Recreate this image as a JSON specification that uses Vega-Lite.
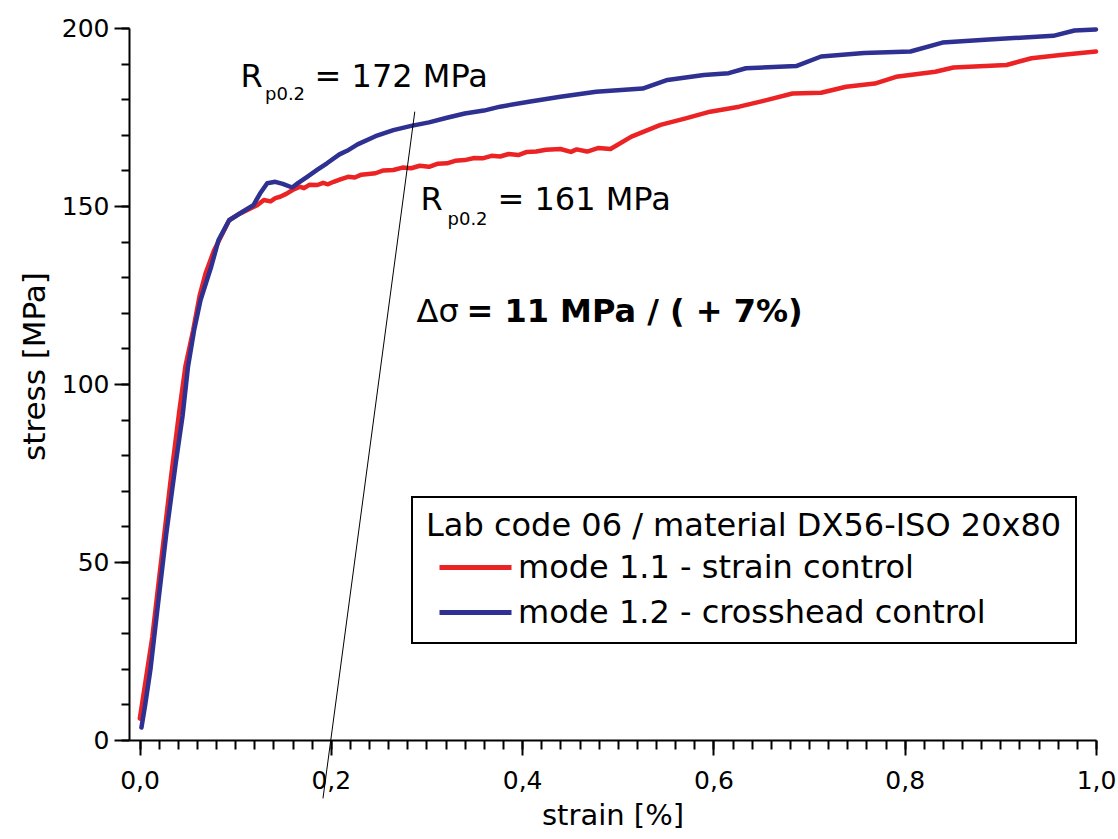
{
  "$schema": "https://vega.github.io/schema/vega-lite/v6.json",
  "width": 967,
  "height": 712,
  "autosize": {"type": "none"},
  "padding": {"left": 129, "top": 28, "right": 22, "bottom": 99},
  "background": "white",
  "config": {
    "view": {"stroke": null},
    "font": "DejaVu Sans",
    "axis": {
      "domainColor": "black", "domainWidth": 2, "tickColor": "black", "tickWidth": 2,
      "labelColor": "black", "titleColor": "black", "labelFont": "DejaVu Sans", "titleFont": "DejaVu Sans",
      "labelFontSize": 25, "titleFontWeight": "normal", "grid": false, "labelOverlap": false, "labelFlush": false
    },
    "legend": {"strokeWidth": 2}
  },
  "resolve": {"axis": {"x": "independent", "y": "independent"}},
  "datasets": {
    "curves": [
      {"strain": 0.0003, "stress": 6, "mode": "mode 1.1 - strain control"},
      {"strain": 0.006, "stress": 16, "mode": "mode 1.1 - strain control"},
      {"strain": 0.0134, "stress": 29, "mode": "mode 1.1 - strain control"},
      {"strain": 0.019, "stress": 42, "mode": "mode 1.1 - strain control"},
      {"strain": 0.026, "stress": 58, "mode": "mode 1.1 - strain control"},
      {"strain": 0.033, "stress": 74, "mode": "mode 1.1 - strain control"},
      {"strain": 0.0414, "stress": 92, "mode": "mode 1.1 - strain control"},
      {"strain": 0.048, "stress": 105, "mode": "mode 1.1 - strain control"},
      {"strain": 0.056, "stress": 115, "mode": "mode 1.1 - strain control"},
      {"strain": 0.063, "stress": 125, "mode": "mode 1.1 - strain control"},
      {"strain": 0.069, "stress": 131, "mode": "mode 1.1 - strain control"},
      {"strain": 0.078, "stress": 137.6, "mode": "mode 1.1 - strain control"},
      {"strain": 0.0937, "stress": 146, "mode": "mode 1.1 - strain control"},
      {"strain": 0.103, "stress": 147.6, "mode": "mode 1.1 - strain control"},
      {"strain": 0.109, "stress": 148.4, "mode": "mode 1.1 - strain control"},
      {"strain": 0.118, "stress": 149.6, "mode": "mode 1.1 - strain control"},
      {"strain": 0.123, "stress": 150.2, "mode": "mode 1.1 - strain control"},
      {"strain": 0.13, "stress": 151.7, "mode": "mode 1.1 - strain control"},
      {"strain": 0.137, "stress": 151.3, "mode": "mode 1.1 - strain control"},
      {"strain": 0.142, "stress": 152.2, "mode": "mode 1.1 - strain control"},
      {"strain": 0.147, "stress": 152.6, "mode": "mode 1.1 - strain control"},
      {"strain": 0.1534, "stress": 153.4, "mode": "mode 1.1 - strain control"},
      {"strain": 0.16, "stress": 154.5, "mode": "mode 1.1 - strain control"},
      {"strain": 0.168, "stress": 155.4, "mode": "mode 1.1 - strain control"},
      {"strain": 0.172, "stress": 155.0, "mode": "mode 1.1 - strain control"},
      {"strain": 0.178, "stress": 156.0, "mode": "mode 1.1 - strain control"},
      {"strain": 0.186, "stress": 155.9, "mode": "mode 1.1 - strain control"},
      {"strain": 0.192, "stress": 156.5, "mode": "mode 1.1 - strain control"},
      {"strain": 0.197, "stress": 156.1, "mode": "mode 1.1 - strain control"},
      {"strain": 0.203, "stress": 156.8, "mode": "mode 1.1 - strain control"},
      {"strain": 0.21, "stress": 157.5, "mode": "mode 1.1 - strain control"},
      {"strain": 0.218, "stress": 158.2, "mode": "mode 1.1 - strain control"},
      {"strain": 0.225, "stress": 158.0, "mode": "mode 1.1 - strain control"},
      {"strain": 0.232, "stress": 158.8, "mode": "mode 1.1 - strain control"},
      {"strain": 0.2467, "stress": 159.2, "mode": "mode 1.1 - strain control"},
      {"strain": 0.255, "stress": 160.0, "mode": "mode 1.1 - strain control"},
      {"strain": 0.2654, "stress": 160.1, "mode": "mode 1.1 - strain control"},
      {"strain": 0.275, "stress": 160.8, "mode": "mode 1.1 - strain control"},
      {"strain": 0.284, "stress": 160.6, "mode": "mode 1.1 - strain control"},
      {"strain": 0.293, "stress": 161.3, "mode": "mode 1.1 - strain control"},
      {"strain": 0.3027, "stress": 161.0, "mode": "mode 1.1 - strain control"},
      {"strain": 0.312, "stress": 161.9, "mode": "mode 1.1 - strain control"},
      {"strain": 0.3214, "stress": 162.0, "mode": "mode 1.1 - strain control"},
      {"strain": 0.33, "stress": 162.7, "mode": "mode 1.1 - strain control"},
      {"strain": 0.34, "stress": 162.9, "mode": "mode 1.1 - strain control"},
      {"strain": 0.35, "stress": 163.5, "mode": "mode 1.1 - strain control"},
      {"strain": 0.3587, "stress": 163.4, "mode": "mode 1.1 - strain control"},
      {"strain": 0.368, "stress": 164.1, "mode": "mode 1.1 - strain control"},
      {"strain": 0.377, "stress": 163.9, "mode": "mode 1.1 - strain control"},
      {"strain": 0.386, "stress": 164.6, "mode": "mode 1.1 - strain control"},
      {"strain": 0.396, "stress": 164.3, "mode": "mode 1.1 - strain control"},
      {"strain": 0.405, "stress": 165.2, "mode": "mode 1.1 - strain control"},
      {"strain": 0.4147, "stress": 165.3, "mode": "mode 1.1 - strain control"},
      {"strain": 0.425, "stress": 165.8, "mode": "mode 1.1 - strain control"},
      {"strain": 0.44, "stress": 166.0, "mode": "mode 1.1 - strain control"},
      {"strain": 0.451, "stress": 165.2, "mode": "mode 1.1 - strain control"},
      {"strain": 0.457, "stress": 165.9, "mode": "mode 1.1 - strain control"},
      {"strain": 0.468, "stress": 165.3, "mode": "mode 1.1 - strain control"},
      {"strain": 0.48, "stress": 166.3, "mode": "mode 1.1 - strain control"},
      {"strain": 0.4924, "stress": 166.0, "mode": "mode 1.1 - strain control"},
      {"strain": 0.5143, "stress": 169.5, "mode": "mode 1.1 - strain control"},
      {"strain": 0.5447, "stress": 172.8, "mode": "mode 1.1 - strain control"},
      {"strain": 0.571, "stress": 174.6, "mode": "mode 1.1 - strain control"},
      {"strain": 0.5966, "stress": 176.5, "mode": "mode 1.1 - strain control"},
      {"strain": 0.627, "stress": 177.9, "mode": "mode 1.1 - strain control"},
      {"strain": 0.6565, "stress": 179.8, "mode": "mode 1.1 - strain control"},
      {"strain": 0.6827, "stress": 181.6, "mode": "mode 1.1 - strain control"},
      {"strain": 0.7126, "stress": 181.8, "mode": "mode 1.1 - strain control"},
      {"strain": 0.7388, "stress": 183.5, "mode": "mode 1.1 - strain control"},
      {"strain": 0.7687, "stress": 184.4, "mode": "mode 1.1 - strain control"},
      {"strain": 0.791, "stress": 186.3, "mode": "mode 1.1 - strain control"},
      {"strain": 0.832, "stress": 187.7, "mode": "mode 1.1 - strain control"},
      {"strain": 0.851, "stress": 188.9, "mode": "mode 1.1 - strain control"},
      {"strain": 0.9064, "stress": 189.6, "mode": "mode 1.1 - strain control"},
      {"strain": 0.9325, "stress": 191.5, "mode": "mode 1.1 - strain control"},
      {"strain": 0.963, "stress": 192.4, "mode": "mode 1.1 - strain control"},
      {"strain": 1.0, "stress": 193.4, "mode": "mode 1.1 - strain control"},
      {"strain": 0.002, "stress": 3.5, "mode": "mode 1.2 - crosshead control"},
      {"strain": 0.006, "stress": 10, "mode": "mode 1.2 - crosshead control"},
      {"strain": 0.0115, "stress": 20, "mode": "mode 1.2 - crosshead control"},
      {"strain": 0.019, "stress": 37.4, "mode": "mode 1.2 - crosshead control"},
      {"strain": 0.028, "stress": 58, "mode": "mode 1.2 - crosshead control"},
      {"strain": 0.038, "stress": 78, "mode": "mode 1.2 - crosshead control"},
      {"strain": 0.045, "stress": 91, "mode": "mode 1.2 - crosshead control"},
      {"strain": 0.0507, "stress": 104.9, "mode": "mode 1.2 - crosshead control"},
      {"strain": 0.057, "stress": 115, "mode": "mode 1.2 - crosshead control"},
      {"strain": 0.0638, "stress": 123.6, "mode": "mode 1.2 - crosshead control"},
      {"strain": 0.075, "stress": 133, "mode": "mode 1.2 - crosshead control"},
      {"strain": 0.0826, "stress": 140.4, "mode": "mode 1.2 - crosshead control"},
      {"strain": 0.0937, "stress": 146, "mode": "mode 1.2 - crosshead control"},
      {"strain": 0.109, "stress": 148.6, "mode": "mode 1.2 - crosshead control"},
      {"strain": 0.119, "stress": 150.2, "mode": "mode 1.2 - crosshead control"},
      {"strain": 0.126, "stress": 153.5, "mode": "mode 1.2 - crosshead control"},
      {"strain": 0.1335, "stress": 156.4, "mode": "mode 1.2 - crosshead control"},
      {"strain": 0.142, "stress": 156.8, "mode": "mode 1.2 - crosshead control"},
      {"strain": 0.1497, "stress": 156.2, "mode": "mode 1.2 - crosshead control"},
      {"strain": 0.1596, "stress": 155.2, "mode": "mode 1.2 - crosshead control"},
      {"strain": 0.166, "stress": 156.5, "mode": "mode 1.2 - crosshead control"},
      {"strain": 0.1753, "stress": 158.2, "mode": "mode 1.2 - crosshead control"},
      {"strain": 0.186, "stress": 160.2, "mode": "mode 1.2 - crosshead control"},
      {"strain": 0.196, "stress": 162.0, "mode": "mode 1.2 - crosshead control"},
      {"strain": 0.209, "stress": 164.5, "mode": "mode 1.2 - crosshead control"},
      {"strain": 0.217, "stress": 165.5, "mode": "mode 1.2 - crosshead control"},
      {"strain": 0.228, "stress": 167.3, "mode": "mode 1.2 - crosshead control"},
      {"strain": 0.2467, "stress": 169.6, "mode": "mode 1.2 - crosshead control"},
      {"strain": 0.2654, "stress": 171.3, "mode": "mode 1.2 - crosshead control"},
      {"strain": 0.284, "stress": 172.5, "mode": "mode 1.2 - crosshead control"},
      {"strain": 0.3027, "stress": 173.5, "mode": "mode 1.2 - crosshead control"},
      {"strain": 0.3214, "stress": 174.8, "mode": "mode 1.2 - crosshead control"},
      {"strain": 0.34, "stress": 176.0, "mode": "mode 1.2 - crosshead control"},
      {"strain": 0.36, "stress": 176.8, "mode": "mode 1.2 - crosshead control"},
      {"strain": 0.377, "stress": 177.9, "mode": "mode 1.2 - crosshead control"},
      {"strain": 0.407, "stress": 179.3, "mode": "mode 1.2 - crosshead control"},
      {"strain": 0.44, "stress": 180.7, "mode": "mode 1.2 - crosshead control"},
      {"strain": 0.4774, "stress": 182.1, "mode": "mode 1.2 - crosshead control"},
      {"strain": 0.526, "stress": 183.0, "mode": "mode 1.2 - crosshead control"},
      {"strain": 0.552, "stress": 185.4, "mode": "mode 1.2 - crosshead control"},
      {"strain": 0.59, "stress": 186.8, "mode": "mode 1.2 - crosshead control"},
      {"strain": 0.616, "stress": 187.3, "mode": "mode 1.2 - crosshead control"},
      {"strain": 0.634, "stress": 188.7, "mode": "mode 1.2 - crosshead control"},
      {"strain": 0.6865, "stress": 189.3, "mode": "mode 1.2 - crosshead control"},
      {"strain": 0.7126, "stress": 192.0, "mode": "mode 1.2 - crosshead control"},
      {"strain": 0.7575, "stress": 193.0, "mode": "mode 1.2 - crosshead control"},
      {"strain": 0.806, "stress": 193.4, "mode": "mode 1.2 - crosshead control"},
      {"strain": 0.8395, "stress": 195.9, "mode": "mode 1.2 - crosshead control"},
      {"strain": 0.888, "stress": 196.8, "mode": "mode 1.2 - crosshead control"},
      {"strain": 0.9554, "stress": 197.8, "mode": "mode 1.2 - crosshead control"},
      {"strain": 0.9775, "stress": 199.3, "mode": "mode 1.2 - crosshead control"},
      {"strain": 1.0, "stress": 199.6, "mode": "mode 1.2 - crosshead control"}
    ],
    "offset": [
      {"strain": 0.1918, "stress": -16.4},
      {"strain": 0.2878, "stress": 176.5}
    ],
    "labels": [
      {"strain": 0.1056, "stress": 183.4, "text": "R"},
      {"strain": 0.183, "stress": 183.4, "text": "= 172 MPa"},
      {"strain": 0.2938, "stress": 148.9, "text": "R"},
      {"strain": 0.3742, "stress": 148.9, "text": "= 161 MPa"},
      {"strain": 0.2896, "stress": 117.5, "text": "Δσ"}
    ],
    "subs": [
      {"strain": 0.1312, "stress": 179.8, "text": "p0.2"},
      {"strain": 0.322, "stress": 144.7, "text": "p0.2"}
    ],
    "bold": [
      {"strain": 0.3418, "stress": 117.5, "text": "= 11 MPa / ( + 7%)"}
    ]
  },
  "layer": [
    {
      "data": {"name": "curves"},
      "mark": {"type": "line", "strokeWidth": 4.5, "strokeCap": "round", "strokeJoin": "round"},
      "encoding": {
        "x": {
          "field": "strain", "type": "quantitative",
          "scale": {"domain": [-0.011, 1.0], "nice": false, "zero": false},
          "axis": {
            "orient": "bottom",
            "title": "strain [%]", "titleFontSize": 29, "titlePadding": 8,
            "values": [0, 0.2, 0.4, 0.6, 0.8, 1],
            "labelExpr": "replace(format(datum.value, '.1f'), '.', ',')",
            "tickSize": 15, "labelPadding": 13
          }
        },
        "y": {
          "field": "stress", "type": "quantitative",
          "scale": {"domain": [0, 200], "nice": false, "zero": false},
          "axis": {
            "orient": "left",
            "title": "stress [MPa]", "titleFontSize": 31, "titlePadding": 10, "titleY": 338,
            "values": [0, 50, 100, 150, 200],
            "format": "d",
            "tickSize": 15, "labelPadding": 5
          }
        },
        "color": {
          "field": "mode", "type": "nominal",
          "scale": {"domain": ["mode 1.1 - strain control", "mode 1.2 - crosshead control"], "range": ["#ec2324", "#2e3192"]},
          "legend": {
            "orient": "none", "legendX": 283, "legendY": 469,
            "title": "Lab code 06 / material DX56-ISO 20x80",
            "titleFont": "DejaVu Sans", "titleFontSize": 32, "titleFontWeight": "normal", "titleColor": "black", "titlePadding": 7, "titleLimit": 0,
            "labelFont": "DejaVu Sans", "labelFontSize": 32, "labelColor": "black", "labelLimit": 0, "labelOffset": 46,
            "symbolType": "M -1 0 H 3.8", "symbolSize": 900, "symbolStrokeWidth": 5, "symbolOffset": 11,
            "rowPadding": 11, "padding": 14, "strokeColor": "black", "fillColor": "white", "cornerRadius": 0
          }
        }
      }
    },
    {
      "data": {"name": "offset"},
      "mark": {"type": "line", "color": "black", "strokeWidth": 1},
      "encoding": {
        "x": {
          "field": "strain", "type": "quantitative",
          "scale": {"domain": [-0.011, 1.0], "nice": false, "zero": false},
          "axis": {
            "orient": "bottom", "title": null, "labels": false, "domain": false, "tickSize": 9,
            "values": [0,0.02,0.04,0.06,0.08,0.1,0.12,0.14,0.16,0.18,0.2,0.22,0.24,0.26,0.28,0.3,0.32,0.34,0.36,0.38,0.4,0.42,0.44,0.46,0.48,0.5,0.52,0.54,0.56,0.58,0.6,0.62,0.64,0.66,0.68,0.7,0.72,0.74,0.76,0.78,0.8,0.82,0.84,0.86,0.88,0.9,0.92,0.94,0.96,0.98,1]
          }
        },
        "y": {
          "field": "stress", "type": "quantitative",
          "scale": {"domain": [0, 200], "nice": false, "zero": false},
          "axis": {
            "orient": "left", "title": null, "labels": false, "domain": false, "tickSize": 8,
            "values": [0,10,20,30,40,50,60,70,80,90,100,110,120,130,140,150,160,170,180,190,200]
          }
        }
      }
    },
    {
      "data": {"name": "labels"},
      "mark": {"type": "text", "font": "DejaVu Sans", "fontSize": 32, "align": "left", "baseline": "alphabetic", "color": "black"},
      "encoding": {
        "x": {"field": "strain", "type": "quantitative", "scale": {"domain": [-0.011, 1.0], "nice": false, "zero": false}, "axis": null},
        "y": {"field": "stress", "type": "quantitative", "scale": {"domain": [0, 200], "nice": false, "zero": false}, "axis": null},
        "text": {"field": "text"}
      }
    },
    {
      "data": {"name": "subs"},
      "mark": {"type": "text", "font": "DejaVu Sans", "fontSize": 18, "align": "left", "baseline": "alphabetic", "color": "black"},
      "encoding": {
        "x": {"field": "strain", "type": "quantitative", "scale": {"domain": [-0.011, 1.0], "nice": false, "zero": false}, "axis": null},
        "y": {"field": "stress", "type": "quantitative", "scale": {"domain": [0, 200], "nice": false, "zero": false}, "axis": null},
        "text": {"field": "text"}
      }
    },
    {
      "data": {"name": "bold"},
      "mark": {"type": "text", "font": "DejaVu Sans", "fontSize": 32, "fontWeight": "bold", "align": "left", "baseline": "alphabetic", "color": "black"},
      "encoding": {
        "x": {"field": "strain", "type": "quantitative", "scale": {"domain": [-0.011, 1.0], "nice": false, "zero": false}, "axis": null},
        "y": {"field": "stress", "type": "quantitative", "scale": {"domain": [0, 200], "nice": false, "zero": false}, "axis": null},
        "text": {"field": "text"}
      }
    }
  ]
}
